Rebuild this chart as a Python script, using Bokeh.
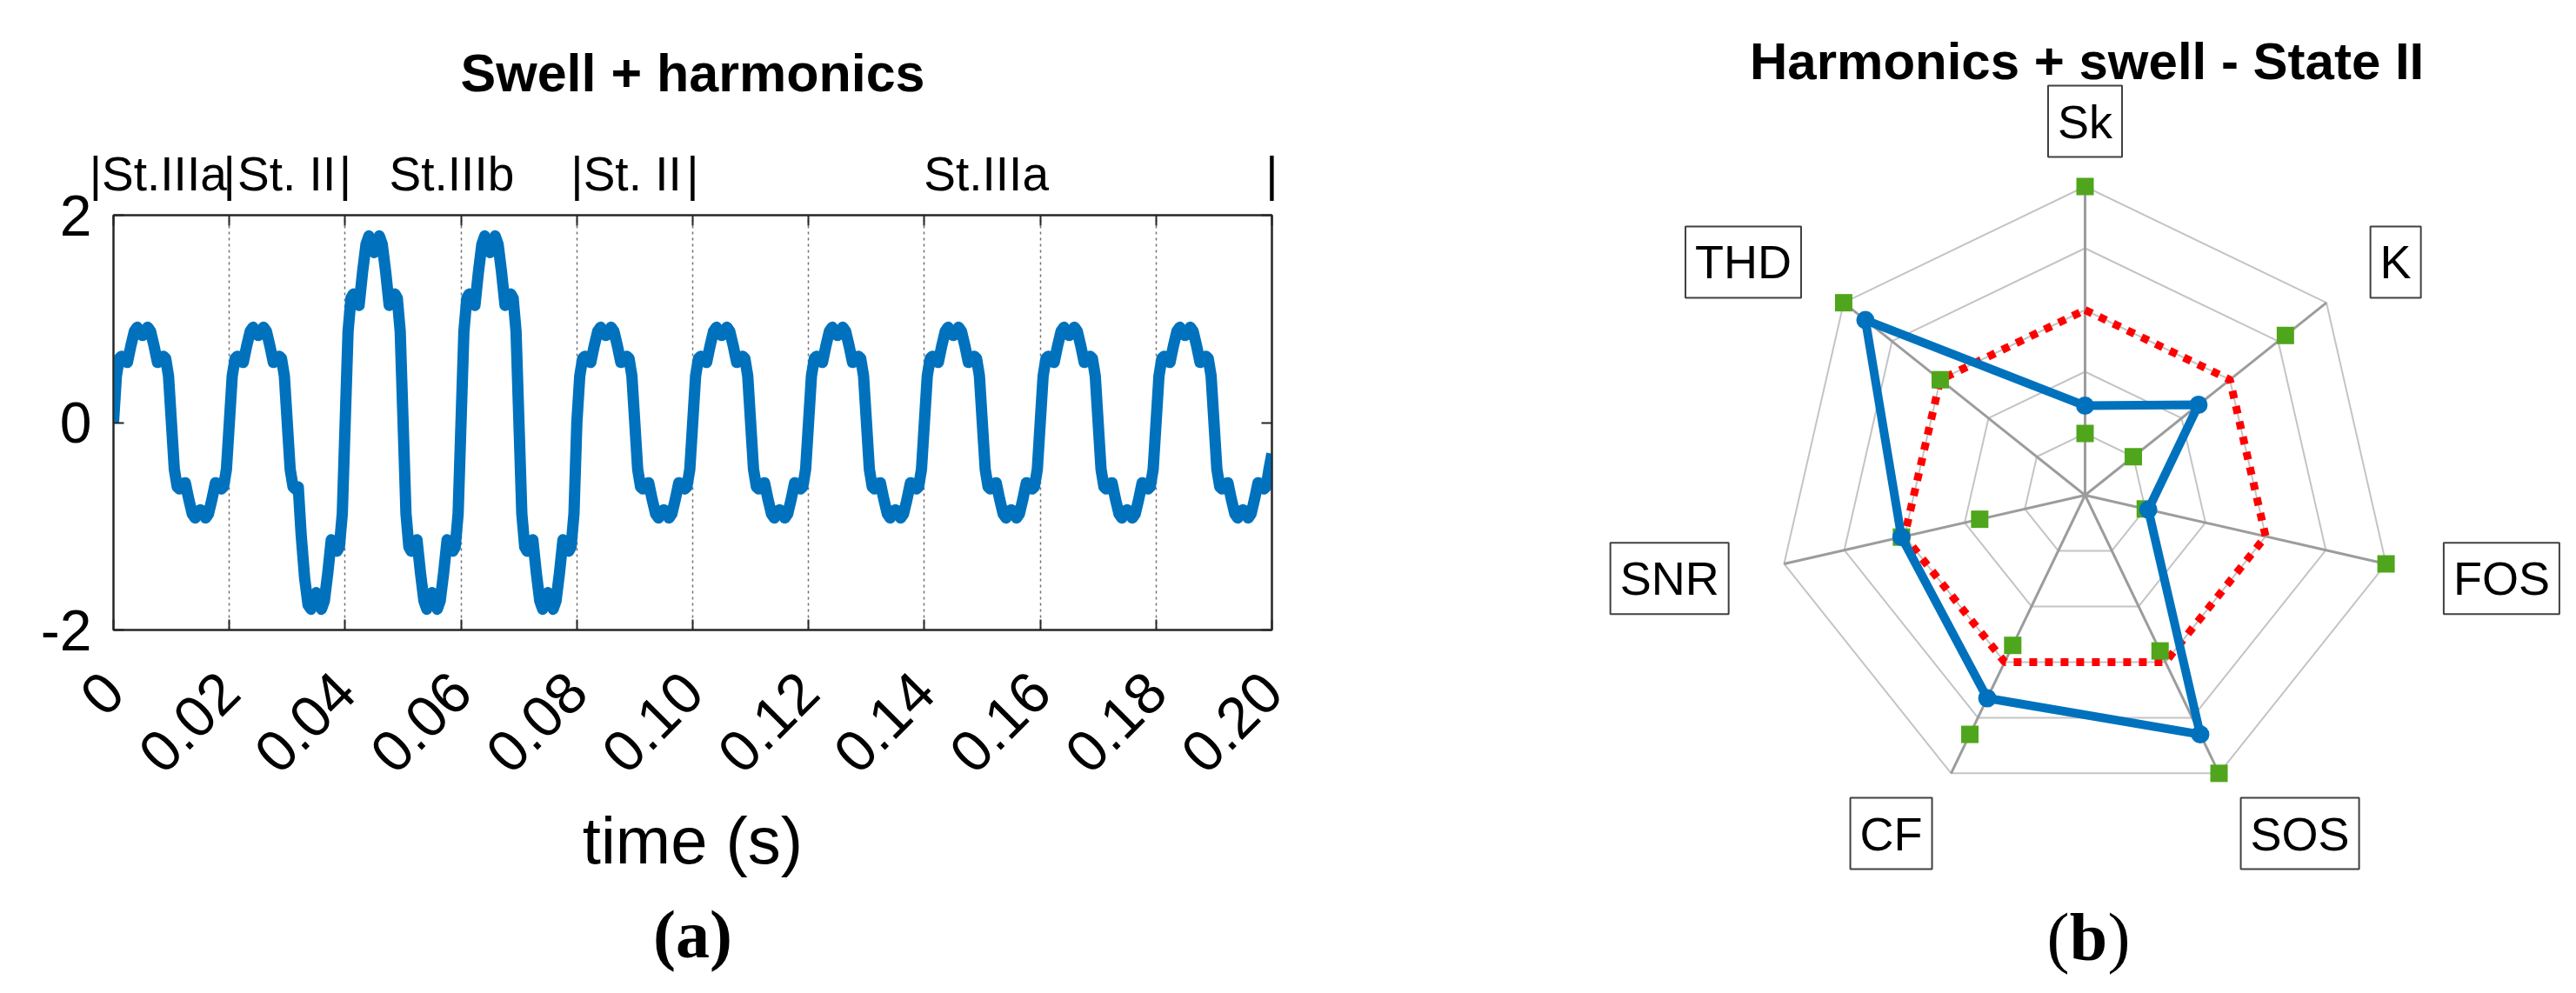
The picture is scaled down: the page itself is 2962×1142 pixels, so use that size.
import math
from bokeh.plotting import figure
from bokeh.models import Range1d, LinearAxis, FixedTicker, Label, Title
from bokeh.layouts import row
from bokeh.embed import file_html
from bokeh.resources import INLINE

# ---------------- panel (a): swell + harmonics waveform ----------------
half_cycle_start_ms = [0, 10, 20, 30, 40, 50, 60, 70, 80, 90,
                       100, 110, 120, 130, 140, 150, 160, 170, 180, 190]
sample_offset_ms = [0.0, 0.5, 1.0, 1.4, 1.9, 2.4, 3.0, 3.6, 4.1, 4.6,
                    5.0, 5.4, 5.9, 6.4, 7.0, 7.6, 8.1, 8.6, 9.0, 9.5]
normal_pos = [0.00, 0.45, 0.62, 0.64, 0.59, 0.58, 0.74, 0.88, 0.92, 0.86,
              0.84, 0.86, 0.92, 0.88, 0.74, 0.58, 0.59, 0.64, 0.62, 0.45]
normal_neg = [0.00, -0.45, -0.62, -0.64, -0.59, -0.58, -0.74, -0.88, -0.92, -0.86,
              -0.84, -0.86, -0.92, -0.88, -0.74, -0.58, -0.59, -0.64, -0.62, -0.45]
swell_pos = [0.00, 0.88, 1.20, 1.24, 1.15, 1.13, 1.45, 1.72, 1.80, 1.68,
             1.64, 1.68, 1.80, 1.72, 1.45, 1.13, 1.15, 1.24, 1.20, 0.88]
swell_neg = [0.00, -0.88, -1.20, -1.24, -1.15, -1.13, -1.45, -1.72, -1.80, -1.68,
             -1.64, -1.68, -1.80, -1.72, -1.45, -1.13, -1.15, -1.24, -1.20, -0.88]
swell_onset_neg = [0.00, -0.45, -0.62, -0.64, -0.62, -1.08, -1.50, -1.76, -1.80, -1.68,
                   -1.64, -1.68, -1.80, -1.72, -1.45, -1.13, -1.15, -1.24, -1.20, -0.88]
half_cycle_shape = ["normal_pos", "normal_neg", "normal_pos", "swell_onset_neg",
                    "swell_pos", "swell_neg", "swell_pos", "swell_neg",
                    "normal_pos", "normal_neg", "normal_pos", "normal_neg",
                    "normal_pos", "normal_neg", "normal_pos", "normal_neg",
                    "normal_pos", "normal_neg", "normal_pos", "normal_neg"]
last_sample_ms = 200.0
last_sample_value = -0.30

x_ticks = [0, 0.02, 0.04, 0.06, 0.08, 0.10, 0.12, 0.14, 0.16, 0.18, 0.20]
x_tick_labels = ["0", "0.02", "0.04", "0.06", "0.08", "0.10",
                 "0.12", "0.14", "0.16", "0.18", "0.20"]
y_ticks = [-2, 0, 2]
y_tick_labels = ["-2", "0", "2"]

# state annotations above the waveform (text and where it sits on the time axis)
stage_texts = ["|St.IIIa", "|", "St. II", "|", "St.IIIb", "|", "St. II", "|", "St.IIIa", "|"]
stage_text_x = [0.0077, 0.02, 0.0299, 0.04, 0.0584, 0.08, 0.0896, 0.10, 0.1507, 0.20]

# ---------------- panel (b): radar ----------------
radar_axes = ["Sk", "K", "FOS", "SOS", "CF", "SNR", "THD"]
state_values = [0.29, 0.47, 0.21, 0.86, 0.73, 0.61, 0.91]
reference_values = [0.60, 0.60, 0.60, 0.60, 0.60, 0.60, 0.60]
limit_low = [0.20, 0.20, 0.20, 0.56, 0.54, 0.35, 0.60]
limit_high = [1.00, 0.83, 1.00, 1.00, 0.86, 0.61, 1.00]
ring_levels = [0.2, 0.4, 0.6, 0.8, 1.0]

# ---------------- build waveform series ----------------
shapes = {"normal_pos": normal_pos, "normal_neg": normal_neg,
          "swell_pos": swell_pos, "swell_neg": swell_neg,
          "swell_onset_neg": swell_onset_neg}
t_s, sig = [], []
for start, shape in zip(half_cycle_start_ms, half_cycle_shape):
    for off, val in zip(sample_offset_ms, shapes[shape]):
        t_s.append((start + off) / 1000.0)
        sig.append(val)
t_s.append(last_sample_ms / 1000.0)
sig.append(last_sample_value)

FONT = "Liberation Sans"
PANEL_FONT = "Liberation Serif"
AX = "#262626"
H = 1142
W1 = 1708
W2 = 1254

p1 = figure(width=W1, height=H, x_range=Range1d(0, 0.2), y_range=Range1d(-2, 2),
            output_backend="svg", toolbar_location=None,
            x_axis_location=None, y_axis_location=None,
            title="Swell + harmonics",
            min_border_left=130, min_border_right=246,
            min_border_top=243, min_border_bottom=418)
p1.frame_align = False
p1.title.align = "center"
p1.title.text_font = FONT
p1.title.text_font_size = "61px"
p1.title.text_font_style = "bold"
p1.title.text_color = "black"
p1.title.standoff = 95
p1.outline_line_color = AX
p1.outline_line_width = 2
p1.background_fill_color = "white"
p1.border_fill_color = "white"
p1.ygrid.grid_line_color = None
p1.xgrid.ticker = FixedTicker(ticks=x_ticks)
p1.xgrid.grid_line_color = "#707070"
p1.xgrid.grid_line_dash = "3 4"
p1.xgrid.grid_line_width = 1.5


def style_axis(ax):
    ax.axis_line_color = AX
    ax.axis_line_width = 2
    ax.major_tick_line_color = AX
    ax.major_tick_line_width = 2
    ax.major_tick_in = 12
    ax.major_tick_out = 0
    ax.minor_tick_line_color = None


xb = LinearAxis(ticker=FixedTicker(ticks=x_ticks),
                major_label_overrides=dict(zip(x_ticks, x_tick_labels)),
                major_label_orientation=math.pi / 4,
                major_label_standoff=60,
                major_label_text_font=FONT, major_label_text_font_size="67px",
                major_label_text_color="black",
                axis_label="time (s)", axis_label_text_font=FONT,
                axis_label_text_font_size="76px", axis_label_text_font_style="normal",
                axis_label_text_color="black", axis_label_standoff=12)
style_axis(xb)
p1.add_layout(xb, "below")

yl = LinearAxis(ticker=FixedTicker(ticks=y_ticks),
                major_label_overrides=dict(zip(y_ticks, y_tick_labels)),
                major_label_standoff=25,
                major_label_text_font=FONT, major_label_text_font_size="66px",
                major_label_text_color="black")
style_axis(yl)
p1.add_layout(yl, "left")

# top axis: tick marks at the time ticks (minor), state texts as labels
xt = LinearAxis(ticker=FixedTicker(ticks=stage_text_x, minor_ticks=x_ticks),
                major_label_overrides=dict(zip(stage_text_x, stage_texts)),
                major_label_standoff=11,
                major_label_text_font=FONT, major_label_text_font_size="55px",
                major_label_text_color="black")
xt.axis_line_color = AX
xt.axis_line_width = 2
xt.major_tick_line_color = None
xt.minor_tick_line_color = AX
xt.minor_tick_line_width = 2
xt.minor_tick_in = 12
xt.minor_tick_out = 0
p1.add_layout(xt, "above")

yr = LinearAxis(ticker=FixedTicker(ticks=y_ticks))
style_axis(yr)
yr.major_label_text_color = None
p1.add_layout(yr, "right")

p1.line(t_s, sig, line_color="#0072BD", line_width=13, line_join="round")

p1.add_layout(Title(text="(a)", align="center", offset=-16, text_font=PANEL_FONT,
                    text_font_size="78px", text_font_style="bold", text_color="black",
                    standoff=33), "below")

# ---------------- radar figure ----------------
CX, CY, R = 2397 - W1, 569, 355.0   # centre (px within this canvas) and radius (px)
p2 = figure(width=W2, height=H,
            x_range=Range1d(-CX / R, (W2 - CX) / R),
            y_range=Range1d(-(H - CY) / R, CY / R),
            output_backend="svg", toolbar_location=None,
            x_axis_location=None, y_axis_location=None, min_border=0)
p2.frame_align = False
p2.grid.visible = False
p2.outline_line_color = None
p2.background_fill_color = "white"
p2.border_fill_color = "white"

n = len(radar_axes)
angles = [math.pi / 2 - 2 * math.pi * k / n for k in range(n)]


def polar(vals):
    return ([r * math.cos(a) for r, a in zip(vals, angles)],
            [r * math.sin(a) for r, a in zip(vals, angles)])


ring_xs, ring_ys = [], []
for lev in ring_levels:
    xs, ys = polar([lev] * n)
    ring_xs.append(xs + xs[:1])
    ring_ys.append(ys + ys[:1])
p2.multi_line(ring_xs, ring_ys, line_color="#C4C4C4", line_width=2)
ox, oy = polar([ring_levels[-1]] * n)
p2.segment(x0=[0] * n, y0=[0] * n, x1=ox, y1=oy, line_color="#9C9C9C", line_width=3)

rx, ry = polar(reference_values)
p2.line(rx + rx[:1], ry + ry[:1], line_color="#FF0000", line_width=9, line_dash="9 9")

gx, gy = polar(limit_low)
p2.scatter(gx, gy, marker="square", size=20, fill_color="#4FA61C", line_color=None)
gx, gy = polar(limit_high)
p2.scatter(gx, gy, marker="square", size=20, fill_color="#4FA61C", line_color=None)

bx, by = polar(state_values)
p2.line(bx + bx[:1], by + by[:1], line_color="#0072BD", line_width=10, line_join="round")
p2.scatter(bx, by, marker="circle", size=21, fill_color="#0072BD", line_color=None)

# axis-name boxes: centre positions in radius units
label_centers = {"Sk": (0.0, 1.211), "K": (1.006, 0.755), "FOS": (1.349, -0.270),
                 "SOS": (0.696, -1.096), "CF": (-0.628, -1.096),
                 "SNR": (-1.346, -0.270), "THD": (-1.107, 0.755)}
for name in radar_axes:
    cx, cy = label_centers[name]
    p2.add_layout(Label(x=cx, y=cy, text=name, text_align="center", text_baseline="middle",
                        text_font=FONT, text_font_size="54px", text_color="black",
                        background_fill_color="white", border_line_color="#404040",
                        border_line_width=2, padding=11))

p2.add_layout(Label(x=0.006, y=1.405, text="Harmonics + swell - State II", text_align="center",
                    text_baseline="middle", text_font=FONT, text_font_size="60px",
                    text_font_style="bold", text_color="black"))
b_x, b_y = 0.011, -1.431
p2.add_layout(Label(x=b_x, y=b_y, x_offset=-22, text="(", text_align="right",
                    text_baseline="middle", text_font=PANEL_FONT,
                    text_font_size="78px", text_color="black"))
p2.add_layout(Label(x=b_x, y=b_y, text="b", text_align="center",
                    text_baseline="middle", text_font=PANEL_FONT,
                    text_font_size="78px", text_font_style="bold", text_color="black"))
p2.add_layout(Label(x=b_x, y=b_y, x_offset=22, text=")", text_align="left",
                    text_baseline="middle", text_font=PANEL_FONT,
                    text_font_size="78px", text_color="black"))

layout = row(p1, p2)
open("out.html", "w").write(file_html(layout, INLINE))
